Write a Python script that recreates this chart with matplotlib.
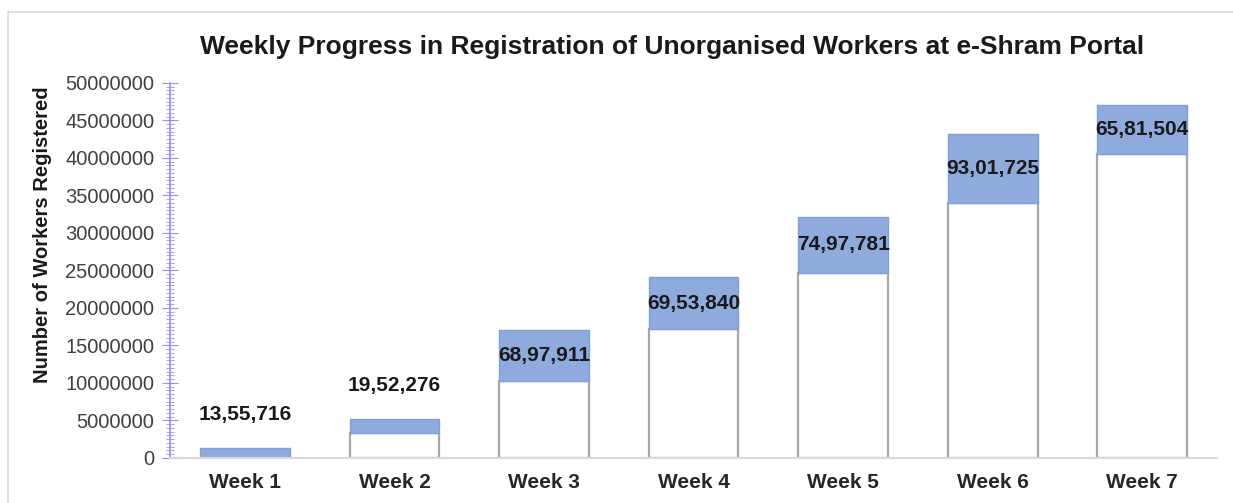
import matplotlib
matplotlib.use('Agg')
import matplotlib.pyplot as plt
from matplotlib.ticker import MultipleLocator
from matplotlib.lines import Line2D

plt.rcParams['font.family'] = ['Liberation Sans', 'DejaVu Sans']

weeks = ['Week 1', 'Week 2', 'Week 3', 'Week 4', 'Week 5', 'Week 6', 'Week 7']
# weekly new registrations (blue part)
added = [1355716, 1952276, 6897911, 6953840, 7497781, 9301725, 6581504]
# white base under each blue part, as drawn in the original
base = [0, 3307992, 10205903, 17159743, 24657524, 33959249, 40540753]
labels = ['13,55,716', '19,52,276', '68,97,911', '69,53,840',
          '74,97,781', '93,01,725', '65,81,504']

fig = plt.figure(figsize=(12.33, 5.03), dpi=100)
ax = fig.add_axes([0.138, 0.0895, 0.849, 0.7455])

x = range(len(weeks))
ax.bar(x, base, width=0.6, color='white', edgecolor='#a6a6a6', linewidth=1.6)
ax.bar(x, added, bottom=base, width=0.6, color='#8faadc',
       edgecolor='#7f9fd8', linewidth=1.0)

for i in x:
    top = base[i] + added[i]
    if added[i] < 3000000:
        y = top + 4400000   # small bars get the label above
    else:
        y = base[i] + added[i] / 2
    ax.text(i, y, labels[i], ha='center', va='center',
            fontsize=15, fontweight='bold', color='#1a1a1a')

ax.set_xlim(-0.5, 6.5)
ax.set_ylim(0, 50000000)
ax.set_xticks(list(x))
ax.set_xticklabels(weeks, fontsize=15, fontweight='bold', color='#262626')
ax.yaxis.set_major_locator(MultipleLocator(5000000))
ax.yaxis.set_minor_locator(MultipleLocator(500000))
ax.ticklabel_format(axis='y', style='plain', useOffset=False)
ax.tick_params(axis='y', which='major', direction='inout', length=11,
               color='#9b8cf2', labelsize=14.5, labelcolor='#404040', pad=6)
ax.tick_params(axis='y', which='minor', direction='inout', length=6,
               color='#9b8cf2')
ax.tick_params(axis='x', length=0, pad=11)

for s in ['top', 'right']:
    ax.spines[s].set_visible(False)
ax.spines['left'].set_color('#9b8cf2')
ax.spines['left'].set_linewidth(1.2)
ax.spines['bottom'].set_color('#d9d9d9')
ax.spines['bottom'].set_linewidth(1.5)

ax.set_ylabel('Number of Workers Registered', fontsize=14.5,
              fontweight='bold', color='#1a1a1a')
ax.yaxis.set_label_coords(-0.1125, 0.595)
fig.text(0.5454, 0.907, 'Weekly Progress in Registration of Unorganised Workers at e-Shram Portal',
         ha='center', va='center', fontsize=19, fontweight='bold', color='#1a1a1a')

# light frame around the chart area
fig.add_artist(Line2D([0.0065, 0.0065], [0.0, 0.976], color='#d9d9d9', lw=1.2))
fig.add_artist(Line2D([0.0065, 1.0], [0.976, 0.976], color='#d9d9d9', lw=1.2))

fig.savefig('out.png', dpi=100)
